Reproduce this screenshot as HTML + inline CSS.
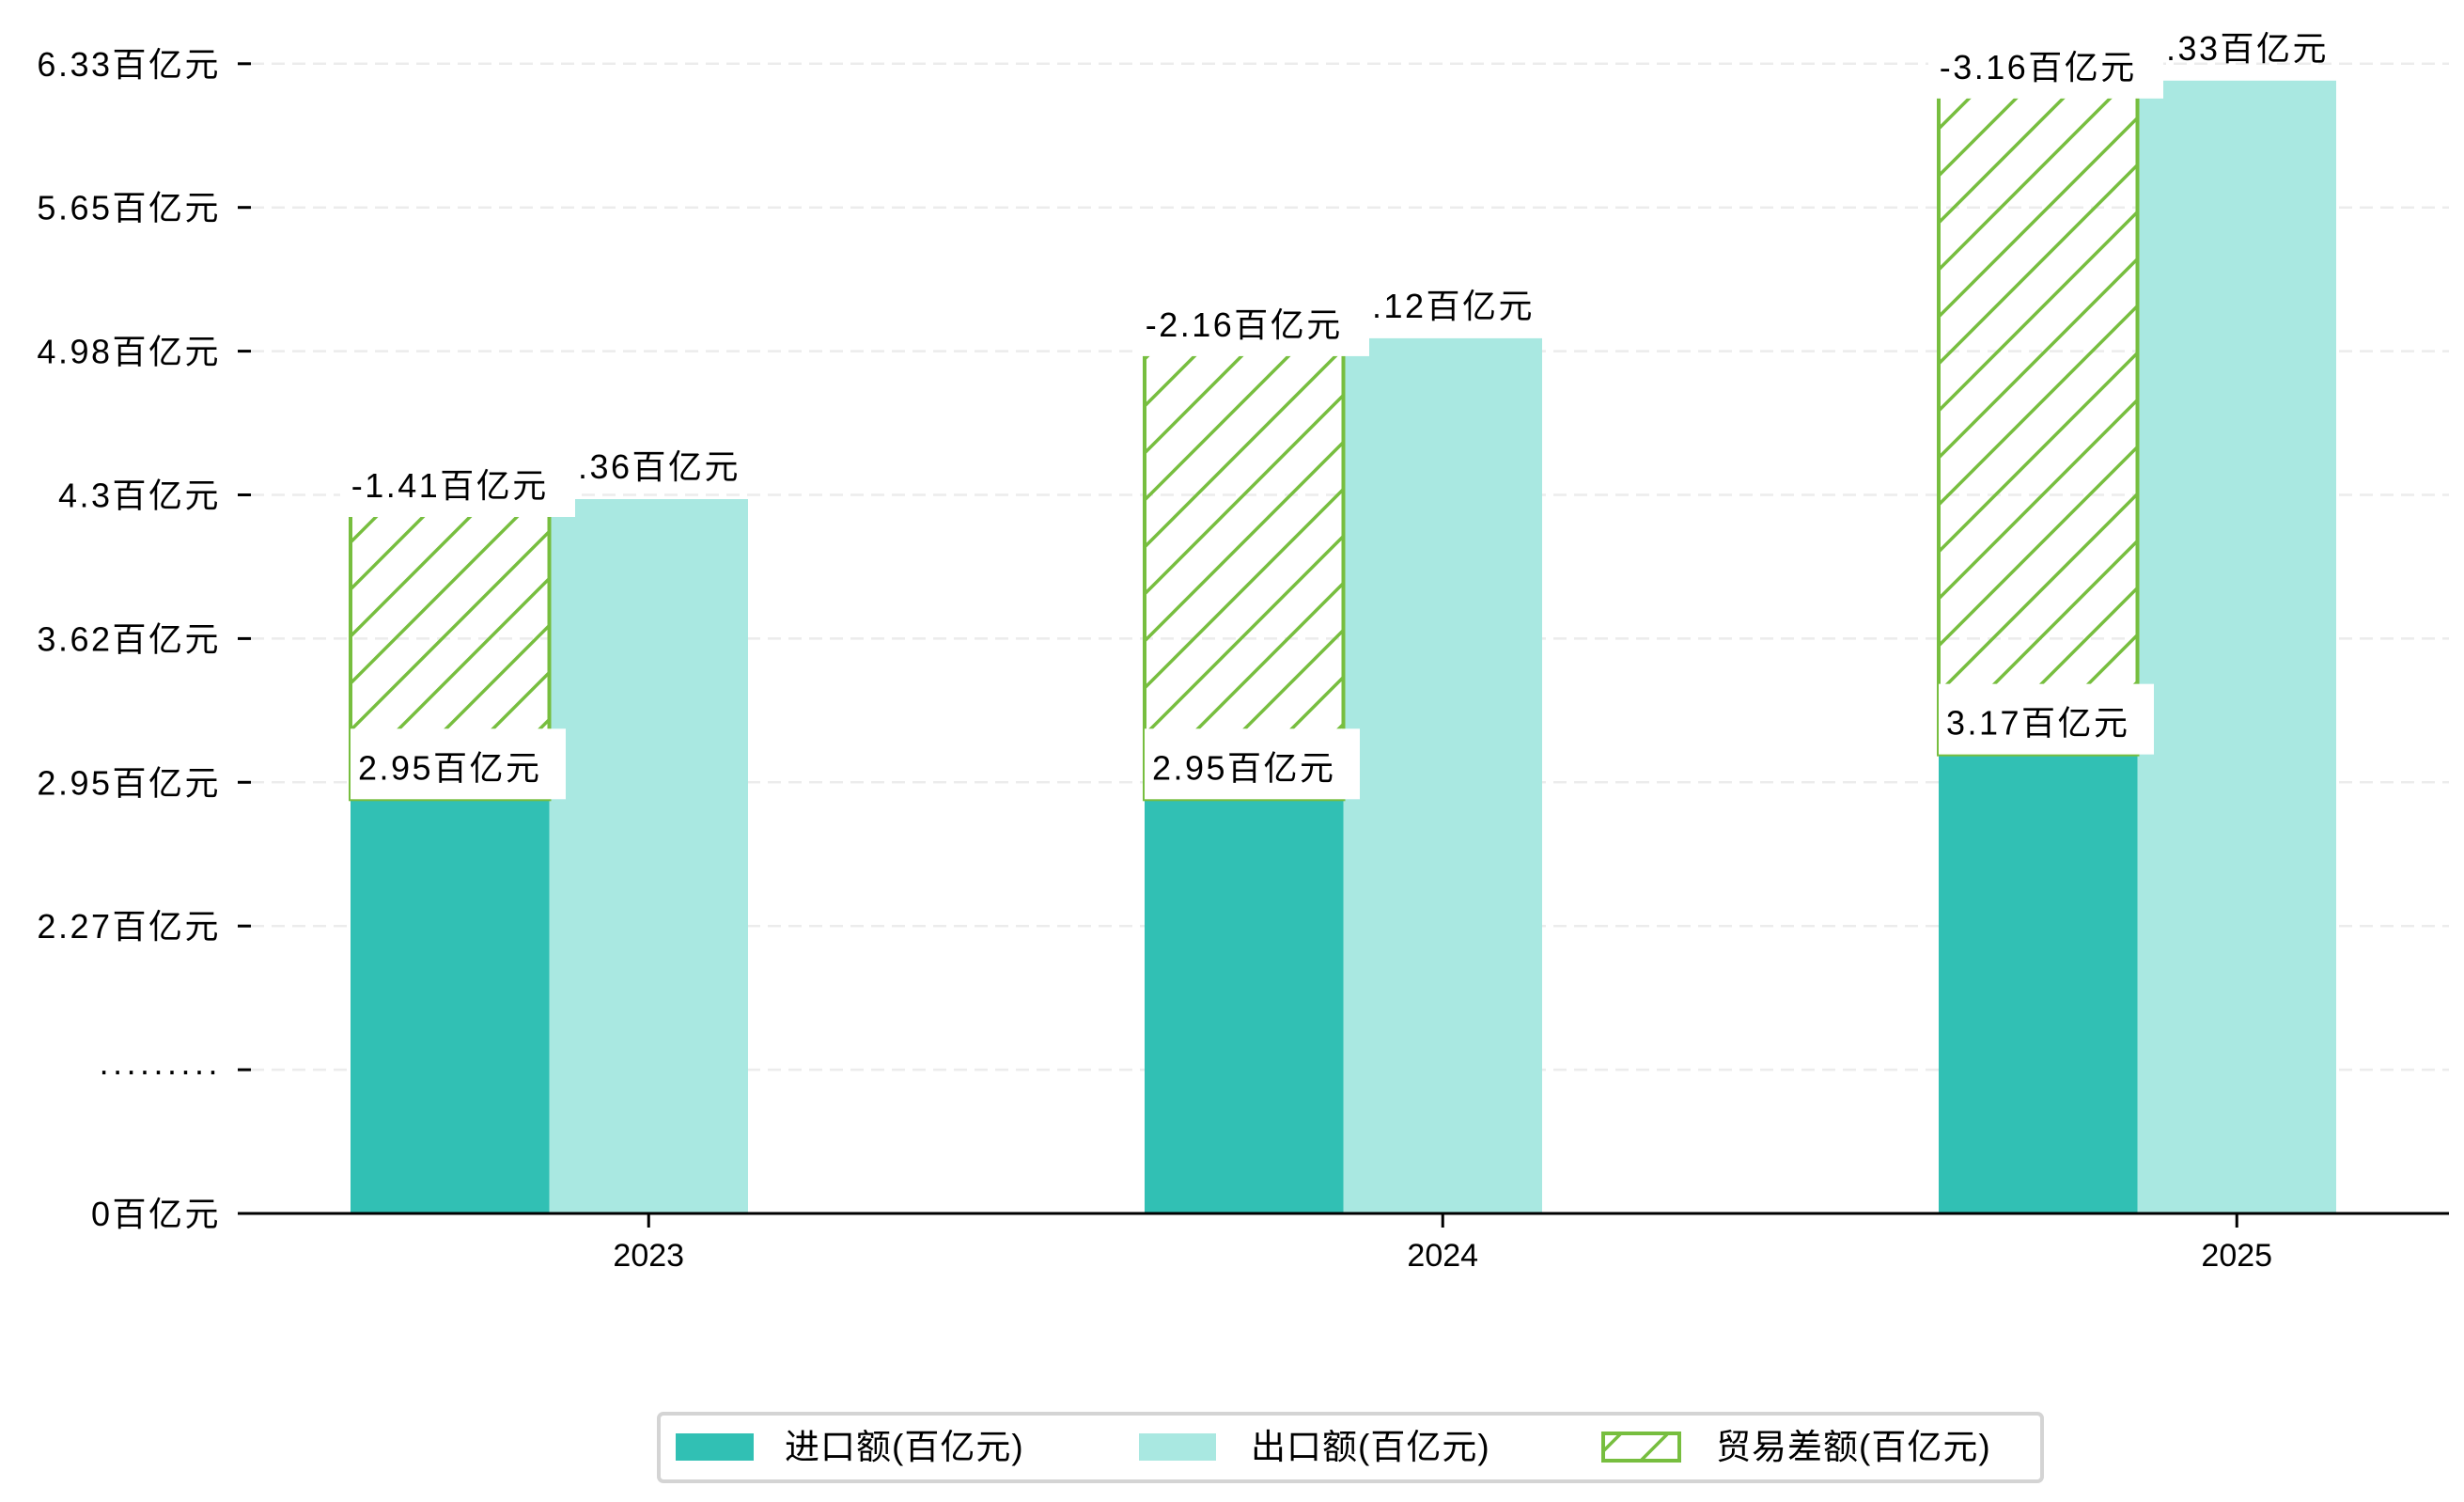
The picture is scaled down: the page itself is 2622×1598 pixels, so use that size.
<!DOCTYPE html>
<html><head><meta charset="utf-8">
<style>
html,body{margin:0;padding:0;background:#fff;}
svg{display:block;font-family:"Liberation Sans","WenQuanYi Zen Hei","Noto Sans CJK SC",sans-serif;}
</style></head>
<body>
<svg id="chart" width="2622" height="1598" viewBox="0 0 2622 1598" xmlns="http://www.w3.org/2000/svg">
<defs>
<pattern id="hatch" patternUnits="userSpaceOnUse" width="50" height="50">
<path d="M-10,10 L10,-10 M0,50 L50,0 M40,60 L60,40" stroke="#77BE3F" stroke-width="3.5"/>
</pattern>
</defs>
<g id="grid"></g>
<g id="bars"></g>
<g id="labels"></g>
<g id="axes"></g>
<g id="legend">
<rect x="701" y="1504" width="1472" height="72" rx="5" fill="#fff" stroke="#d4d4d4" stroke-width="4"/>
<g>
<rect x="719" y="1525" width="83" height="29" fill="#31C0B4"/>
<text x="835" y="1552" font-size="37" fill="#000" letter-spacing="1">进口额(百亿元)</text>
</g>
<g>
<rect x="1212" y="1525" width="82" height="29" fill="#A9E8E1"/>
<text x="1331" y="1552" font-size="37" fill="#000" letter-spacing="1">出口额(百亿元)</text>
</g>
<g>
<rect x="1706" y="1525" width="81" height="29" fill="url(#hatch)" stroke="#77BE3F" stroke-width="4"/>
<text x="1826" y="1552" font-size="37" fill="#000" letter-spacing="1">贸易差额(百亿元)</text>
</g>
</g>
</svg>
<script>
const years = ["2023","2024","2025"];
const importVals = [2.87, 2.87, 3.08];
const exportVals = [4.28, 5.04, 6.25];
const importLabels = ["2.95百亿元","2.95百亿元","3.17百亿元"];
const exportLabels = ["4.36百亿元","5.12百亿元","6.33百亿元"];
const balanceLabels = ["-1.41百亿元","-2.16百亿元","-3.16百亿元"];
const tickVals = [0, 1.59, 2.27, 2.95, 3.62, 4.30, 4.98, 5.65, 6.33];
const tickLabels = ["0百亿元","·········","2.27百亿元","2.95百亿元","3.62百亿元","4.3百亿元","4.98百亿元","5.65百亿元","6.33百亿元"];

const NS = "http://www.w3.org/2000/svg";
const Y0 = 1291, STEP = 152.9;
function y(v){
  for(let i=0;i<tickVals.length-1;i++){
    if(v<=tickVals[i+1]||i===tickVals.length-2){
      const t=(v-tickVals[i])/(tickVals[i+1]-tickVals[i]);
      return Y0-(i+t)*STEP;
    }
  }
}
const X0 = 373, GROUP = 845, BW = 211.5;
function xImport(i){return X0+i*GROUP;}
function mk(tag, attrs, parent){
  const el=document.createElementNS(NS,tag);
  for(const k in attrs) el.setAttribute(k,attrs[k]);
  parent.appendChild(el); return el;
}
const grid=document.getElementById('grid'), bars=document.getElementById('bars'),
      labels=document.getElementById('labels'), axes=document.getElementById('axes');

tickVals.forEach((v,i)=>{
  const yy=y(v);
  if(i>0){
    const g=mk('line',{x1:267,x2:2606,y1:yy,y2:yy,stroke:'#ececec','stroke-width':2.5,'stroke-dasharray':'14,8'},grid);
    
    
  }
  const tk=mk('line',{x1:253,x2:267,y1:yy,y2:yy,stroke:'#000','stroke-width':3},axes);
  
  
  const t=mk('text',{x:235,y:yy+13,'text-anchor':'end','font-size':36,fill:'#000','letter-spacing':2.5},axes);
  t.textContent=tickLabels[i];
  
  
});

years.forEach((yr,i)=>{
  const xi=xImport(i), xe=xi+BW;
  const yi=y(importVals[i]), ye=y(exportVals[i]);
  const bi=mk('rect',{x:xi,y:yi,width:BW,height:Y0-yi,fill:'#31C0B4'},bars);
  
  
  const be=mk('rect',{x:xe,y:ye,width:BW,height:Y0-ye,fill:'#A9E8E1'},bars);
  
  
  const bh=mk('rect',{x:xi,y:ye,width:BW,height:yi-ye,fill:'url(#hatch)',stroke:'#77BE3F','stroke-width':4},bars);
  
  

  const te=mk('text',{x:xe+BW/2,y:ye-22,'text-anchor':'middle','font-size':36,fill:'#000','letter-spacing':2.5},labels);
  te.textContent=exportLabels[i];
  
  
  const bb=mk('rect',{x:xi-11,y:ye-55,width:250,height:74,fill:'#fff'},labels);
  
  
  const tb=mk('text',{x:xi+BW/2,y:ye-2,'text-anchor':'middle','font-size':36,fill:'#000','letter-spacing':2.5},labels);
  tb.textContent=balanceLabels[i];
  
  
  const ib=mk('rect',{x:xi,y:yi-75,width:229,height:75,fill:'#fff'},labels);
  
  
  const ti=mk('text',{x:xi+BW/2,y:yi-21,'text-anchor':'middle','font-size':36,fill:'#000','letter-spacing':2.5},labels);
  ti.textContent=importLabels[i];
  
  

  const xt=mk('line',{x1:xe+BW/2,x2:xe+BW/2,y1:Y0,y2:Y0+15,stroke:'#000','stroke-width':3},axes);
  
  
  const xl=mk('text',{x:xe+BW/2,y:Y0+56,'text-anchor':'middle','font-size':34,fill:'#000'},axes);
  xl.textContent=yr;
  
  
});
const ax=mk('line',{x1:253,x2:2606,y1:Y0,y2:Y0,stroke:'#000','stroke-width':3},axes);


</script>
</body></html>
